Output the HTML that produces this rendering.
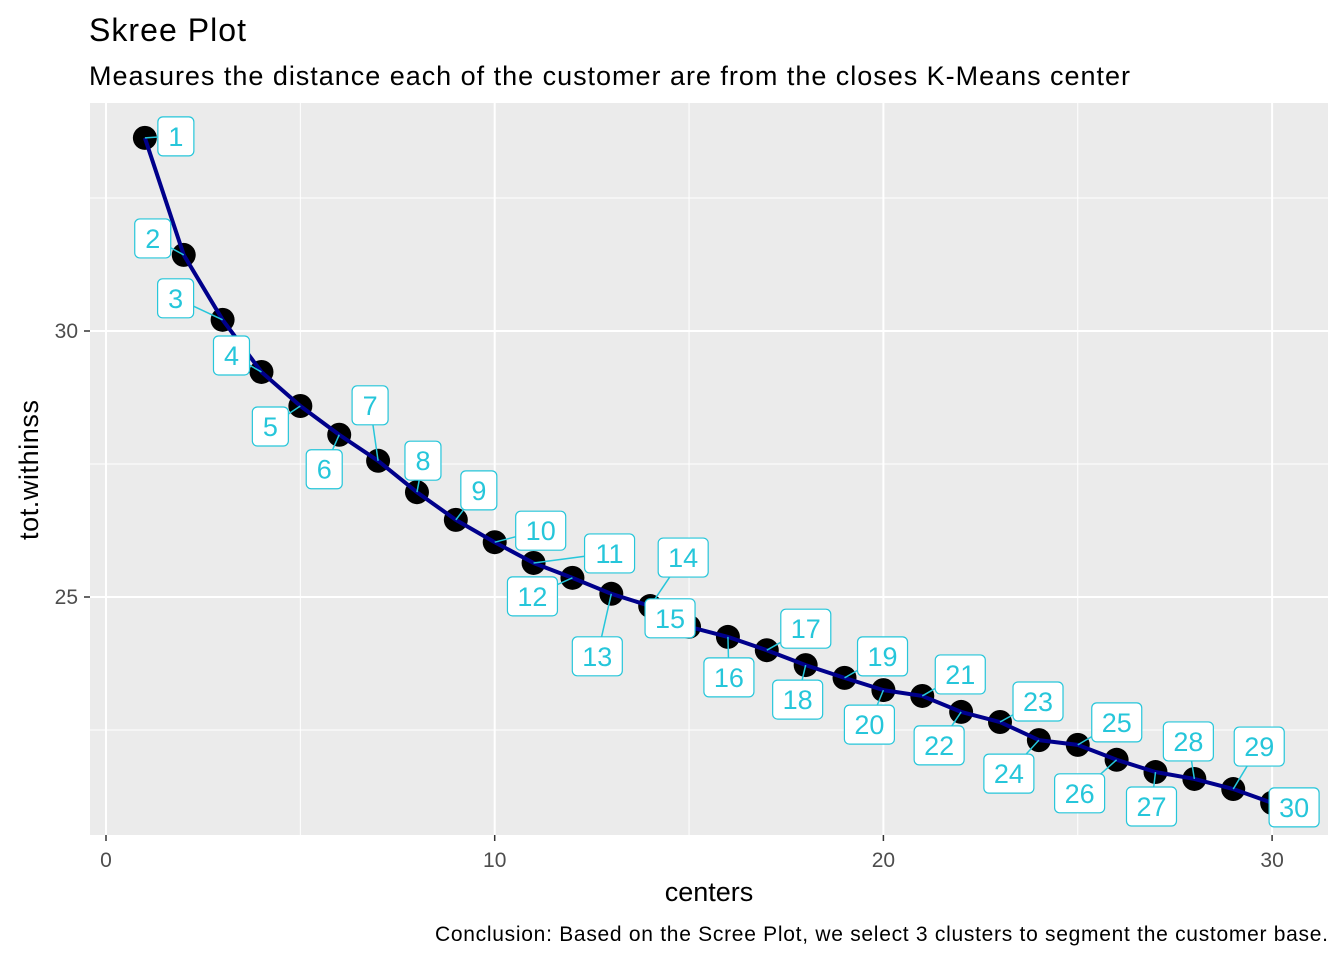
<!DOCTYPE html>
<html><head><meta charset="utf-8"><style>
body{margin:0;background:#fff;font-family:"Liberation Sans",sans-serif}
</style></head><body>
<svg width="1344" height="960" viewBox="0 0 1344 960" font-family="Liberation Sans, sans-serif">
<text x="89" y="41" font-size="32" textLength="157" fill="#000">Skree Plot</text>
<text x="89" y="85" font-size="27" textLength="1041" fill="#000">Measures the distance each of the customer are from the closes K-Means center</text>
<rect x="90" y="103" width="1238" height="732" fill="#ebebeb"/>
<g id="grid"></g><g id="axes"></g><g id="marks"></g>
<text x="709" y="901" font-size="27" text-anchor="middle" fill="#000">centers</text>
<text transform="translate(38,470) rotate(-90)" font-size="27" text-anchor="middle" textLength="140" fill="#000">tot.withinss</text>
<text x="435" y="941" font-size="21" textLength="893" fill="#000">Conclusion: Based on the Scree Plot, we select 3 clusters to segment the customer base.</text>
</svg>
<script>
const centers=[1,2,3,4,5,6,7,8,9,10,11,12,13,14,15,16,17,18,19,20,21,22,23,24,25,26,27,28,29,30];
const withinss=[33.63,31.43,30.21,29.23,28.59,28.05,27.56,26.97,26.45,26.03,25.64,25.36,25.06,24.83,24.44,24.25,24.0,23.72,23.48,23.25,23.14,22.84,22.65,22.31,22.22,21.94,21.71,21.58,21.39,21.13];
const labelDx=[31,-31,-47,-30,-30,-15,-8,6,23,46,76,-40,-14,33,-19,1,39,-8,38,-14,38,-22,38,-30,39,-37,-4,-6,26,22];
const labelDy=[-2,-17,-22,-17,20,34,-56,-32,-30,-12,-10,18,62,-49,-9,40,-22,34,-22,34,-22,33,-21,33,-23,33,34,-38,-43,4];
const xTicks=[0,10,20,30], yTicks=[25,30], xMinor=[5,15,25], yMinor=[22.5,27.5,32.5];
const X=v=>106+(v)*38.87, Y=v=>331-(v-30)*53.2;
const ns="http://www.w3.org/2000/svg";
function mk(t,a,p){const e=document.createElementNS(ns,t);for(const k in a)e.setAttribute(k,a[k]);p.appendChild(e);return e;}
const g=document.getElementById('grid'),ax=document.getElementById('axes'),m=document.getElementById('marks');
xMinor.forEach(v=>{const l=mk('line',{x1:X(v),x2:X(v),y1:103,y2:835,stroke:'#fff','stroke-width':1},g);});
yMinor.forEach(v=>{const l=mk('line',{x1:90,x2:1328,y1:Y(v),y2:Y(v),stroke:'#fff','stroke-width':1},g);});
xTicks.forEach(v=>{const l=mk('line',{x1:X(v),x2:X(v),y1:103,y2:835,stroke:'#fff','stroke-width':2},g);
 const t=mk('line',{x1:X(v),x2:X(v),y1:835,y2:841,stroke:'#333','stroke-width':1.5},ax);
 const tx=mk('text',{x:X(v),y:867,'font-size':21,'text-anchor':'middle',fill:'#4d4d4d'},ax);tx.textContent=v;});
yTicks.forEach(v=>{const l=mk('line',{x1:90,x2:1328,y1:Y(v),y2:Y(v),stroke:'#fff','stroke-width':2},g);
 const t=mk('line',{x1:84,x2:90,y1:Y(v),y2:Y(v),stroke:'#333','stroke-width':1.5},ax);
 const tx=mk('text',{x:78,y:Y(v)+7,'font-size':21,'text-anchor':'end',fill:'#4d4d4d'},ax);tx.textContent=v;});
centers.forEach((c,i)=>{const p=mk('circle',{cx:X(c),cy:Y(withinss[i]),r:12,fill:'#000'},m);});
const pl=mk('polyline',{points:centers.map((c,i)=>X(c)+','+Y(withinss[i])).join(' '),fill:'none',stroke:'#00008b','stroke-width':4,'stroke-linejoin':'round'},m);

centers.forEach((c,i)=>{const px=X(c),py=Y(withinss[i]);const lx=px+labelDx[i],ly=py+labelDy[i];
 const s=mk('line',{x1:px,y1:py,x2:lx,y2:ly,stroke:'#26c6da','stroke-width':1.5},m);});
centers.forEach((c,i)=>{const px=X(c),py=Y(withinss[i]);const lx=px+labelDx[i],ly=py+labelDy[i];const w=c<10?36:50;
 const r=mk('rect',{x:lx-w/2,y:ly-19,width:w,height:39,rx:5,fill:'#fff',stroke:'#26c6da','stroke-width':1.2},m);
 const t=mk('text',{x:lx,y:ly+10,'font-size':27,'text-anchor':'middle',fill:'#26c6da'},m);t.textContent=c;});
</script>
</body></html>
